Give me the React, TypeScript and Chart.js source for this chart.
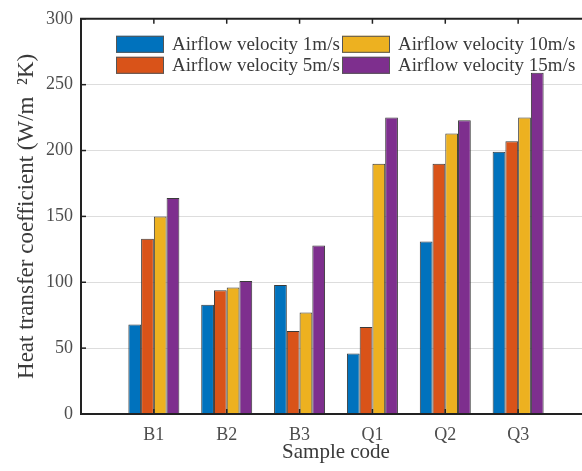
import React, { useEffect, useRef } from "react";
import { Chart, registerables } from "chart.js";

Chart.register(...registerables);

const categories = ["B1", "B2", "B3", "Q1", "Q2", "Q3"];
const seriesLabels = [
  "Airflow velocity 1m/s",
  "Airflow velocity 5m/s",
  "Airflow velocity 10m/s",
  "Airflow velocity 15m/s",
];
const v1 = [68, 83, 98, 46, 131, 199];
const v5 = [133, 94, 63, 66, 190, 207];
const v10 = [150, 96, 77, 190, 213, 225];
const v15 = [164, 101, 128, 225, 223, 259];
const colors = ["#0072BD", "#D95319", "#EDB120", "#7E2F8E"];
const yTicks = [0, 50, 100, 150, 200, 250, 300];

const FONT = "'Liberation Serif', 'Times New Roman', serif";

const framePlugin = {
  id: "frame",
  afterDatasetsDraw(chart: any) {
    const { ctx, chartArea } = chart;
    const { left, right, top, bottom } = chartArea;
    const xs = chart.scales.x;
    const ys = chart.scales.y;
    ctx.save();
    ctx.strokeStyle = "#222";
    ctx.lineWidth = 1.5;
    categories.forEach((_, i) => {
      const px = xs.getPixelForValue(i + 1);
      ctx.beginPath();
      ctx.moveTo(px, top);
      ctx.lineTo(px, top + 5);
      ctx.moveTo(px, bottom);
      ctx.lineTo(px, bottom - 5);
      ctx.stroke();
    });
    yTicks.forEach((t) => {
      const py = ys.getPixelForValue(t);
      ctx.beginPath();
      ctx.moveTo(left, py);
      ctx.lineTo(left + 5, py);
      ctx.stroke();
    });
    ctx.lineWidth = 2;
    ctx.beginPath();
    ctx.moveTo(right, top);
    ctx.lineTo(left, top);
    ctx.lineTo(left, bottom);
    ctx.lineTo(right, bottom);
    ctx.stroke();
    ctx.restore();
  },
};

const legendPlugin = {
  id: "innerLegend",
  afterDraw(chart: any) {
    const { ctx, chartArea } = chart;
    const { left, top } = chartArea;
    const colX = [left + 35, left + 261];
    const rowY = [top + 17, top + 38];
    ctx.save();
    ctx.font = `19px ${FONT}`;
    ctx.textBaseline = "middle";
    ctx.textAlign = "left";
    chart.data.datasets.forEach((ds: any, i: number) => {
      const col = Math.floor(i / 2);
      const row = i % 2;
      const x = colX[col];
      const y = rowY[row];
      ctx.fillStyle = ds.backgroundColor;
      ctx.fillRect(x, y, 48, 17);
      ctx.strokeStyle = "#555";
      ctx.lineWidth = 1;
      ctx.strokeRect(x + 0.5, y + 0.5, 47, 16);
      ctx.fillStyle = "#3a3a3a";
      ctx.fillText(ds.label, x + 56, y + 9);
    });
    ctx.restore();
  },
};

export default function App() {
  const ref = useRef<HTMLCanvasElement>(null);
  useEffect(() => {
    if (!ref.current) return;
    const all = [v1, v5, v10, v15];
    const chart = new Chart(ref.current, {
      type: "bar",
      data: {
        datasets: all.map((vals, i) => ({
          label: seriesLabels[i],
          data: vals.map((v, j) => ({ x: j + 1, y: v })),
          backgroundColor: colors[i],
          borderColor: "#3a3a3a",
          borderWidth: 1,
          barPercentage: 1,
          categoryPercentage: 0.7,
        })),
      },
      options: {
        animation: false,
        responsive: false,
        layout: { padding: { top: 15, right: 9, left: 0, bottom: 0 } },
        plugins: { legend: { display: false }, tooltip: { enabled: false } },
        scales: {
          x: {
            type: "linear",
            min: 0,
            max: 7,
            offset: false,
            afterBuildTicks: (s: any) => {
              s.ticks = categories.map((_, i) => ({ value: i + 1 }));
            },
            afterFit: (s: any) => {
              s.height = 57;
            },
            grid: { display: false, drawTicks: false, offset: false },
            border: { display: false },
            ticks: {
              callback: (v: any) => categories[Number(v) - 1] ?? "",
              font: { family: FONT, size: 18 },
              color: "#4d4d4d",
              padding: 10,
              maxRotation: 0,
              autoSkip: false,
            },
            title: {
              display: true,
              text: "Sample code",
              font: { family: FONT, size: 21 },
              color: "#3a3a3a",
              padding: { top: 0, bottom: 6 },
            },
          },
          y: {
            min: 0,
            max: 300,
            afterBuildTicks: (s: any) => {
              s.ticks = yTicks.map((v) => ({ value: v }));
            },
            afterFit: (s: any) => {
              s.width = 81;
            },
            grid: { color: "#dddddd", lineWidth: 1, drawTicks: false },
            border: { display: false },
            ticks: {
              font: { family: FONT, size: 18 },
              color: "#4d4d4d",
              padding: 8,
            },
            title: {
              display: true,
              text: "Heat transfer coefficient (W/m  ²K)",
              font: { family: FONT, size: 23 },
              color: "#3a3a3a",
              padding: { top: 13, bottom: 0 },
            },
          },
        },
      },
      plugins: [framePlugin, legendPlugin],
    } as any);
    return () => chart.destroy();
  }, []);
  return (
    <div style={{ position: "fixed", left: 0, top: 0, width: 582, height: 471, overflow: "hidden", background: "#fff" }}>
      <canvas ref={ref} width={600} height={471} style={{ display: "block" }} />
    </div>
  );
}
